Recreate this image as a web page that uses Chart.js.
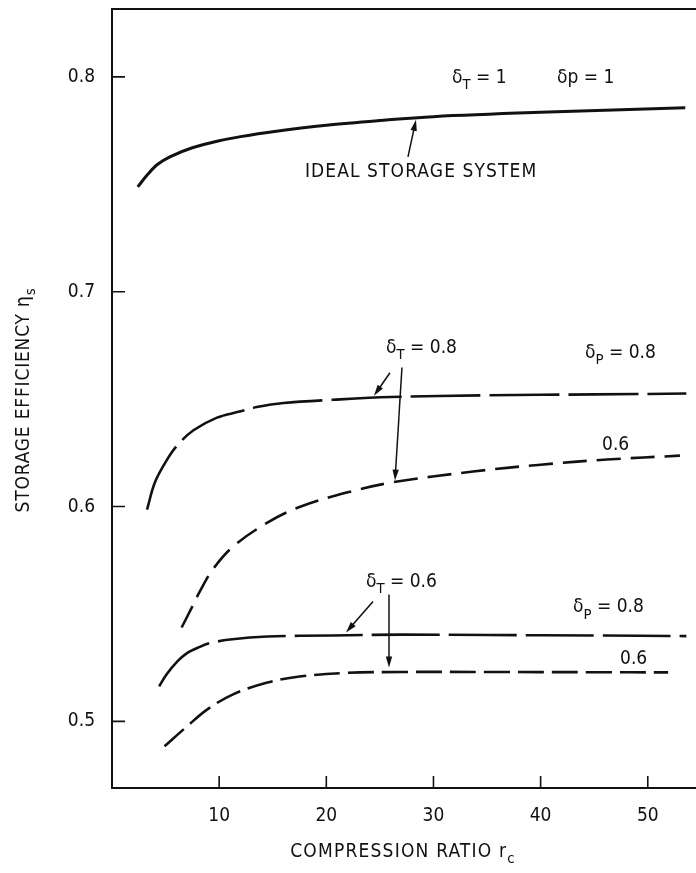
<!DOCTYPE html>
<html>
<head>
<meta charset="utf-8">
<script src="https://cdn.jsdelivr.net/npm/chart.js@4.4.1/dist/chart.umd.min.js"></script>
<style>
    html, body { margin: 0; padding: 0; background: #fff; overflow: hidden; }
    #wrap { width: 696px; height: 873px; position: relative; }
</style>
</head>
<body>
<div id="wrap"><canvas id="effChart"></canvas></div>
<script>
// storage efficiency vs compression ratio
const idealX = [2.4, 3.3, 4.2, 5.4, 7.5, 10, 12, 15, 20, 25, 30, 40, 53.5];
const idealY = [0.7488, 0.7544, 0.7591, 0.7628, 0.767, 0.7703, 0.7722, 0.7745, 0.7775, 0.7797, 0.7815, 0.7835, 0.7856];

// deltaT = 0.8
const t8p8X = [3.27, 4.0, 5.1, 6.1, 7.6, 9.8, 11.9, 13.5, 16, 20.6, 26, 35, 45, 53.6];
const t8p8Y = [0.5986, 0.6112, 0.6215, 0.6285, 0.6355, 0.6414, 0.6442, 0.6463, 0.6482, 0.6497, 0.6510, 0.6518, 0.6522, 0.6526];
const t8p6X = [6.5, 7.5, 8.2, 9.4, 11.3, 14.5, 17.5, 21.9, 26.2, 33.7, 40, 46.2, 53];
const t8p6Y = [0.5437, 0.5535, 0.5605, 0.5707, 0.5814, 0.5925, 0.5998, 0.6065, 0.6113, 0.6163, 0.6195, 0.6219, 0.6237];

// deltaT = 0.6
const t6p8X = [4.4, 5.1, 6.1, 7.0, 8.2, 9.2, 11, 14.5, 20.6, 27, 35, 45, 53.6];
const t6p8Y = [0.5163, 0.5219, 0.5279, 0.5318, 0.5347, 0.5365, 0.5381, 0.5395, 0.5400, 0.5404, 0.5402, 0.5400, 0.5397];
const t6p6X = [4.9, 7.0, 8.9, 11.3, 14.5, 17.5, 21.9, 27, 35, 45, 51.9];
const t6p6Y = [0.4884, 0.4977, 0.5056, 0.5126, 0.5181, 0.5209, 0.5226, 0.5230, 0.5230, 0.5229, 0.5228];

const xTicks = [10, 20, 30, 40, 50];
const yTicks = [0.5, 0.6, 0.7, 0.8];

const INK = '#111';
const FAMILY = "'DejaVu Sans Condensed', 'DejaVu Sans', sans-serif";
const font = size => size + 'px ' + FAMILY;

// labels on the plot: [parts, x, y, letter spacing], a part is [text, isSubscript]
const notes = [
    [[['δ', 0], ['T', 1], [' = 1', 0]], 31.73, 0.7995, 0],
    [[['δp = 1', 0]], 41.53, 0.7995, 0],
    [[['IDEAL STORAGE SYSTEM', 0]], 18.0, 0.7558, 1.1],
    [[['δ', 0], ['T', 1], [' = 0.8', 0]], 25.57, 0.6740, 0],
    [[['δ', 0], ['P', 1], [' = 0.8', 0]], 44.14, 0.6716, 0],
    [[['0.6', 0]], 45.73, 0.6288, 0],
    [[['δ', 0], ['T', 1], [' = 0.6', 0]], 23.70, 0.5647, 0],
    [[['δ', 0], ['P', 1], [' = 0.8', 0]], 43.02, 0.5530, 0],
    [[['0.6', 0]], 47.41, 0.5288, 0]
];

// leader arrows: [fromX, fromY, toX, toY]
const arrows = [
    [27.62, 0.7628, 28.37, 0.7800],
    [25.94, 0.6623, 24.45, 0.6516],
    [27.06, 0.6647, 26.41, 0.6121],
    [24.36, 0.5558, 21.84, 0.5414],
    [25.85, 0.5591, 25.85, 0.5251]
];

const toPoints = (xs, ys) => xs.map((x, i) => ({ x: x, y: ys[i] }));

function curve(xs, ys, dash, width) {
    return {
        data: toPoints(xs, ys),
        showLine: true,
        borderColor: INK,
        borderWidth: width,
        borderDash: dash,
        borderCapStyle: 'butt',
        tension: 0.35,
        pointRadius: 0,
        fill: false
    };
}

function drawParts(ctx, parts, x, y, size, spacing) {
    let cx = x;
    ctx.letterSpacing = (spacing || 0) + 'px';
    parts.forEach(([t, sub]) => {
        const s = sub ? size * 0.78 : size;
        ctx.font = font(s);
        ctx.fillText(t, cx, y + (sub ? size * 0.38 : 0));
        cx += ctx.measureText(t).width;
    });
    ctx.letterSpacing = '0px';
}

function partsWidth(ctx, parts, size, spacing) {
    let w = 0;
    ctx.letterSpacing = (spacing || 0) + 'px';
    parts.forEach(([t, sub]) => {
        ctx.font = font(sub ? size * 0.78 : size);
        w += ctx.measureText(t).width;
    });
    ctx.letterSpacing = '0px';
    return w;
}

function drawArrow(ctx, x1, y1, x2, y2) {
    const a = Math.atan2(y2 - y1, x2 - x1);
    const len = 11, half = 3.2;
    ctx.beginPath();
    ctx.moveTo(x1, y1);
    ctx.lineTo(x2 - Math.cos(a) * len * 0.8, y2 - Math.sin(a) * len * 0.8);
    ctx.stroke();
    ctx.beginPath();
    ctx.moveTo(x2, y2);
    ctx.lineTo(x2 - Math.cos(a) * len - Math.sin(a) * half, y2 - Math.sin(a) * len + Math.cos(a) * half);
    ctx.lineTo(x2 - Math.cos(a) * len + Math.sin(a) * half, y2 - Math.sin(a) * len - Math.cos(a) * half);
    ctx.closePath();
    ctx.fill();
}

const decorations = {
    id: 'decorations',
    afterDraw(chart) {
        const ctx = chart.ctx;
        const xs = chart.scales.x, ys = chart.scales.y;
        const area = chart.chartArea;
        ctx.save();
        ctx.strokeStyle = INK;
        ctx.fillStyle = INK;

        // inward tick marks
        ctx.lineWidth = 1.6;
        ctx.beginPath();
        xTicks.forEach(v => {
            const px = xs.getPixelForValue(v);
            ctx.moveTo(px, area.bottom);
            ctx.lineTo(px, area.bottom - 12);
        });
        yTicks.forEach(v => {
            const py = ys.getPixelForValue(v);
            ctx.moveTo(area.left, py);
            ctx.lineTo(area.left + 13, py);
        });
        ctx.stroke();

        // annotations
        ctx.textAlign = 'left';
        ctx.textBaseline = 'middle';
        notes.forEach(([parts, x, y, sp]) => {
            drawParts(ctx, parts, xs.getPixelForValue(x), ys.getPixelForValue(y), 19, sp);
        });
        ctx.lineWidth = 1.5;
        arrows.forEach(([x1, y1, x2, y2]) => {
            drawArrow(ctx, xs.getPixelForValue(x1), ys.getPixelForValue(y1),
                xs.getPixelForValue(x2), ys.getPixelForValue(y2));
        });

        // axis titles
        const xTitle = [['COMPRESSION RATIO r', 0], ['c', 1]];
        const xw = partsWidth(ctx, xTitle, 19, 1.2);
        drawParts(ctx, xTitle, 403 - xw / 2, 852, 19, 1.2);

        const yTitle = [['STORAGE EFFICIENCY η', 0], ['s', 1]];
        const yw = partsWidth(ctx, yTitle, 19, 0.8);
        ctx.translate(24, 400);
        ctx.rotate(-Math.PI / 2);
        drawParts(ctx, yTitle, -yw / 2, 0, 19, 0.8);
        ctx.restore();
    }
};

new Chart(document.getElementById('effChart'), {
    type: 'scatter',
    data: {
        datasets: [
            curve(idealX, idealY, [], 3),
            curve(t8p8X, t8p8Y, [70, 9], 2.6),
            curve(t8p6X, t8p6Y, [24, 10], 2.6),
            curve(t6p8X, t6p8Y, [68, 9], 2.6),
            curve(t6p6X, t6p6Y, [26, 8], 2.6)
        ]
    },
    options: {
        responsive: true,
        maintainAspectRatio: false,
        animation: false,
        devicePixelRatio: 1,
        layout: { padding: { top: 9, left: 0, right: 0, bottom: 0 } },
        plugins: {
            legend: { display: false },
            tooltip: { enabled: false }
        },
        scales: {
            x: {
                type: 'linear',
                position: 'bottom',
                min: 0,
                max: 54.5,
                grid: { display: false, drawTicks: false },
                border: { color: INK, width: 2 },
                ticks: {
                    color: INK,
                    font: { family: FAMILY, size: 19 },
                    padding: 17,
                    maxRotation: 0
                },
                afterBuildTicks: s => { s.ticks = xTicks.map(v => ({ value: v })); },
                afterFit: s => { s.height = 85; s.paddingLeft = 0; s.paddingRight = 0; }
            },
            top: {
                type: 'linear',
                axis: 'x',
                position: 'top',
                min: 0,
                max: 54.5,
                grid: { display: false, drawTicks: false },
                border: { color: INK, width: 2 },
                ticks: { display: false },
                afterFit: s => { s.height = 0; s.paddingLeft = 0; s.paddingRight = 0; }
            },
            y: {
                type: 'linear',
                min: 0.469,
                max: 0.8316,
                grid: { display: false, drawTicks: false },
                border: { color: INK, width: 2 },
                ticks: {
                    color: INK,
                    font: { family: FAMILY, size: 19 },
                    padding: 17,
                    callback: v => v.toFixed(1)
                },
                afterBuildTicks: s => { s.ticks = yTicks.map(v => ({ value: v })); },
                afterFit: s => { s.width = 112; s.paddingTop = 0; s.paddingBottom = 0; }
            }
        }
    },
    plugins: [decorations]
});
</script>
</body>
</html>
